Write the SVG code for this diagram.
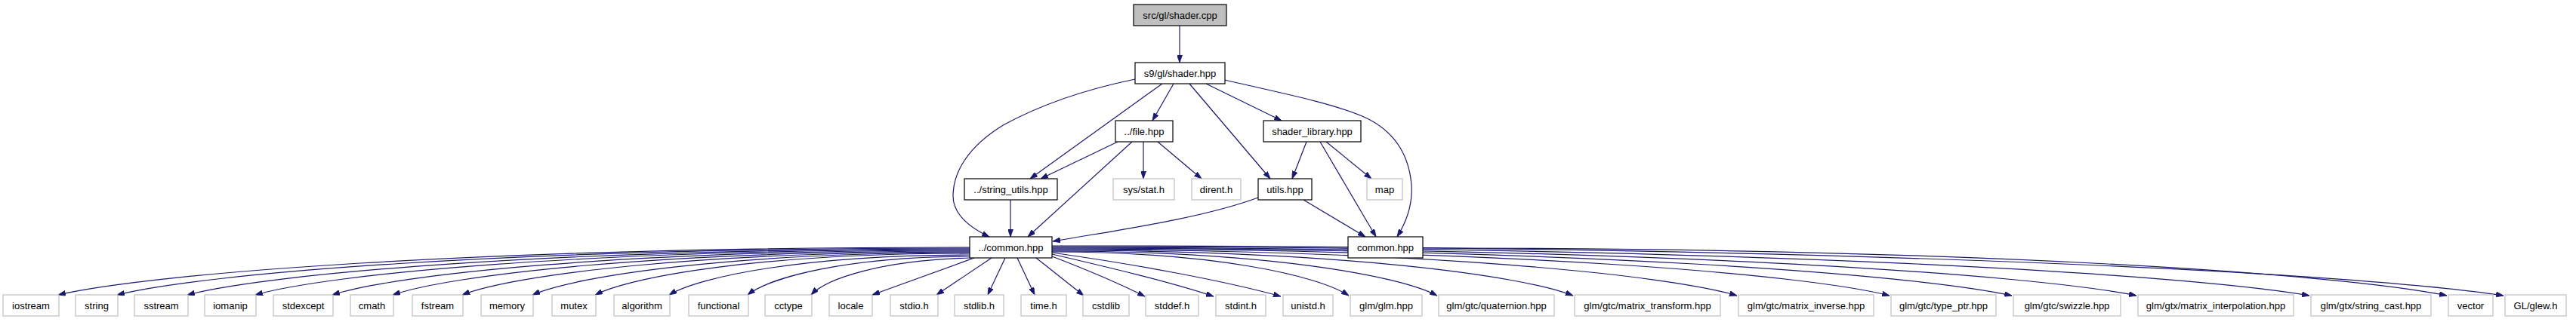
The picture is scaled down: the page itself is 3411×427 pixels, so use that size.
<svg xmlns="http://www.w3.org/2000/svg" width="3411" height="427" viewBox="0 0 3411 427">
<style>
.bg{fill:#fff}
.node rect{fill:#fff;stroke:#000;stroke-width:1.2}
.node.sys rect{stroke:#bfbfbf}
.node.root rect{fill:#bfbfbf}
.node text{font-family:"Liberation Sans",Arial,Helvetica,sans-serif;font-size:13px;text-anchor:middle;fill:#000}
.edges path{fill:none;stroke:#191970;stroke-width:1.2;marker-end:url(#arr)}
</style>
<defs>
<marker id="arr" viewBox="0 0 10 7" refX="10" refY="3.5" markerWidth="10" markerHeight="7" markerUnits="userSpaceOnUse" orient="auto">
<path d="M0,0 L10,3.5 L0,7 z" fill="#191970" stroke="#191970" stroke-width="0.8"/>
</marker>
</defs>
<rect class="bg" x="0" y="0" width="3411" height="427"/>
<g class="edges">
<path d="M1562,34 L1562,83"/>
<path d="M1503,105 C1440,118 1380,138 1330,165 C1280,195 1262,230 1262,260 C1262,285 1285,302 1310,314"/>
<path d="M1622,106 C1680,120 1760,135 1806,155 C1850,175 1866,210 1869,245 C1871,275 1860,298 1850,314"/>
<path d="M1539,111 L1364,237"/>
<path d="M1554,111 L1526,160"/>
<path d="M1575,111 L1682,237"/>
<path d="M1597,111 L1697,160"/>
<path d="M1480,188 L1378,237"/>
<path d="M1499,188 L1361,314"/>
<path d="M1514,188 L1514,237"/>
<path d="M1533,188 L1591,237"/>
<path d="M1730,188 L1711,237"/>
<path d="M1748,188 L1822,314"/>
<path d="M1756,188 L1816,237"/>
<path d="M1666,262 C1590,290 1480,305 1394,320"/>
<path d="M1726,265 L1808,314"/>
<path d="M1338,265 L1338,314"/>
<path d="M1284,328 C620,328 198,363 77,391"/>
<path d="M1284,329 C663,329 268,363 155,391"/>
<path d="M1284,330 C714,330 352,364 248,391"/>
<path d="M1284,331 C764,331 433,364 338,391"/>
<path d="M1284,332 C820,332 524,364 440,391"/>
<path d="M1284,333 C864,333 596,365 520,391"/>
<path d="M1284,334 C914,334 679,365 612,391"/>
<path d="M1284,335 C966,335 763,366 705,391"/>
<path d="M1284,336 C1011,336 838,366 788,391"/>
<path d="M1284,338 C1065,338 926,367 886,391"/>
<path d="M1284,340 C1122,340 1019,368 990,391"/>
<path d="M1286,342 C1168,345 1095,369 1074,391"/>
<path d="M1290,342 L1155,391"/>
<path d="M1313,342 L1240,391"/>
<path d="M1331,342 L1308,391"/>
<path d="M1347,342 L1370,391"/>
<path d="M1372,342 L1435,392"/>
<path d="M1393,340 C1440,358 1480,375 1516,393"/>
<path d="M1393,337 C1470,355 1550,374 1607,393"/>
<path d="M1393,335 C1500,350 1620,372 1696,393"/>
<path d="M1393,334 C1609,334 1747,366 1786,392"/>
<path d="M1393,333 C1674,333 1852,365 1903,392"/>
<path d="M1393,332 C1773,332 2014,365 2083,392"/>
<path d="M1393,331 C1892,331 2209,365 2300,392"/>
<path d="M1393,330 C2003,330 2391,364 2502,392"/>
<path d="M1393,329 C2092,329 2537,364 2664,392"/>
<path d="M1393,328 C2183,328 2685,363 2829,392"/>
<path d="M1393,327 C2309,327 2891,363 3058,392"/>
<path d="M1393,326 C2450,326 3123,362 3315,392"/>
<path d="M1884,329 C2630,329 3104,364 3240,392"/>
</g>
<g id="n0" class="node root"><rect x="1501" y="6" width="123" height="28"/><text x="1562.5" y="25">src/gl/shader.cpp</text></g>
<g id="n1" class="node"><rect x="1503" y="83" width="119" height="28"/><text x="1562.5" y="102">s9/gl/shader.hpp</text></g>
<g id="n2" class="node"><rect x="1477" y="160" width="76" height="28"/><text x="1515" y="179">../file.hpp</text></g>
<g id="n3" class="node"><rect x="1673" y="160" width="129" height="28"/><text x="1737.5" y="179">shader_library.hpp</text></g>
<g id="n4" class="node"><rect x="1277" y="237" width="123" height="28"/><text x="1338.5" y="256">../string_utils.hpp</text></g>
<g id="n5" class="node sys"><rect x="1474" y="237" width="81" height="28"/><text x="1514.5" y="256">sys/stat.h</text></g>
<g id="n6" class="node sys"><rect x="1578" y="237" width="65" height="28"/><text x="1610.5" y="256">dirent.h</text></g>
<g id="n7" class="node"><rect x="1666" y="237" width="71" height="28"/><text x="1701.5" y="256">utils.hpp</text></g>
<g id="n8" class="node sys"><rect x="1810" y="237" width="47" height="28"/><text x="1833.5" y="256">map</text></g>
<g id="n9" class="node"><rect x="1284" y="314" width="109" height="28"/><text x="1338.5" y="333">../common.hpp</text></g>
<g id="n10" class="node"><rect x="1785" y="314" width="99" height="28"/><text x="1834.5" y="333">common.hpp</text></g>
<g id="n11" class="node sys"><rect x="4" y="391" width="74" height="28"/><text x="41" y="410">iostream</text></g>
<g id="n12" class="node sys"><rect x="100" y="391" width="56" height="28"/><text x="128" y="410">string</text></g>
<g id="n13" class="node sys"><rect x="178" y="391" width="71" height="28"/><text x="213.5" y="410">sstream</text></g>
<g id="n14" class="node sys"><rect x="271" y="391" width="68" height="28"/><text x="305" y="410">iomanip</text></g>
<g id="n15" class="node sys"><rect x="362" y="391" width="79" height="28"/><text x="401.5" y="410">stdexcept</text></g>
<g id="n16" class="node sys"><rect x="464" y="391" width="57" height="28"/><text x="492.5" y="410">cmath</text></g>
<g id="n17" class="node sys"><rect x="546" y="391" width="67" height="28"/><text x="579.5" y="410">fstream</text></g>
<g id="n18" class="node sys"><rect x="637" y="391" width="69" height="28"/><text x="671.5" y="410">memory</text></g>
<g id="n19" class="node sys"><rect x="731" y="391" width="58" height="28"/><text x="760" y="410">mutex</text></g>
<g id="n20" class="node sys"><rect x="813" y="391" width="74" height="28"/><text x="850" y="410">algorithm</text></g>
<g id="n21" class="node sys"><rect x="912" y="391" width="79" height="28"/><text x="951.5" y="410">functional</text></g>
<g id="n22" class="node sys"><rect x="1013" y="391" width="62" height="28"/><text x="1044" y="410">cctype</text></g>
<g id="n23" class="node sys"><rect x="1098" y="391" width="57" height="28"/><text x="1126.5" y="410">locale</text></g>
<g id="n24" class="node sys"><rect x="1179" y="391" width="63" height="28"/><text x="1210.5" y="410">stdio.h</text></g>
<g id="n25" class="node sys"><rect x="1264" y="391" width="65" height="28"/><text x="1296.5" y="410">stdlib.h</text></g>
<g id="n26" class="node sys"><rect x="1352" y="391" width="60" height="28"/><text x="1382" y="410">time.h</text></g>
<g id="n27" class="node sys"><rect x="1434" y="391" width="61" height="28"/><text x="1464.5" y="410">cstdlib</text></g>
<g id="n28" class="node sys"><rect x="1517" y="391" width="70" height="28"/><text x="1552" y="410">stddef.h</text></g>
<g id="n29" class="node sys"><rect x="1610" y="391" width="66" height="28"/><text x="1643" y="410">stdint.h</text></g>
<g id="n30" class="node sys"><rect x="1699" y="391" width="66" height="28"/><text x="1732" y="410">unistd.h</text></g>
<g id="n31" class="node sys"><rect x="1788" y="391" width="95" height="28"/><text x="1835.5" y="410">glm/glm.hpp</text></g>
<g id="n32" class="node sys"><rect x="1905" y="391" width="153" height="28"/><text x="1981.5" y="410">glm/gtc/quaternion.hpp</text></g>
<g id="n33" class="node sys"><rect x="2085" y="391" width="193" height="28"/><text x="2181.5" y="410">glm/gtc/matrix_transform.hpp</text></g>
<g id="n34" class="node sys"><rect x="2302" y="391" width="179" height="28"/><text x="2391.5" y="410">glm/gtc/matrix_inverse.hpp</text></g>
<g id="n35" class="node sys"><rect x="2504" y="391" width="139" height="28"/><text x="2573.5" y="410">glm/gtc/type_ptr.hpp</text></g>
<g id="n36" class="node sys"><rect x="2666" y="391" width="142" height="28"/><text x="2737" y="410">glm/gtc/swizzle.hpp</text></g>
<g id="n37" class="node sys"><rect x="2831" y="391" width="206" height="28"/><text x="2934" y="410">glm/gtx/matrix_interpolation.hpp</text></g>
<g id="n38" class="node sys"><rect x="3060" y="391" width="159" height="28"/><text x="3139.5" y="410">glm/gtx/string_cast.hpp</text></g>
<g id="n39" class="node sys"><rect x="3242" y="391" width="59" height="28"/><text x="3271.5" y="410">vector</text></g>
<g id="n40" class="node sys"><rect x="3317" y="391" width="81" height="28"/><text x="3357.5" y="410">GL/glew.h</text></g>
</svg>
